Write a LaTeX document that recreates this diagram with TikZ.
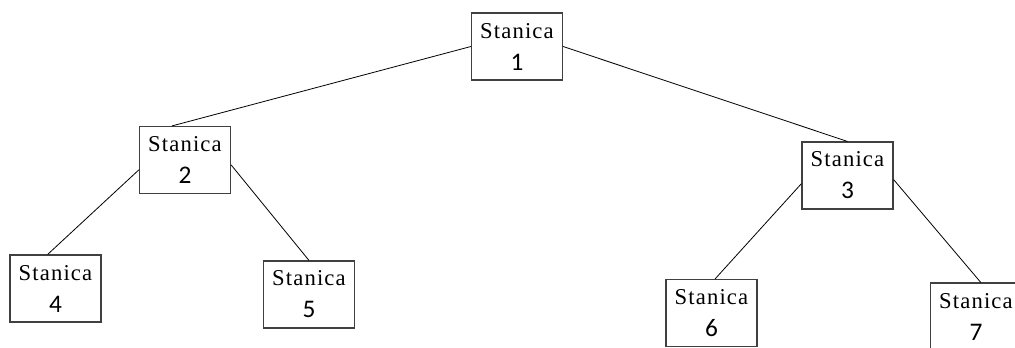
\documentclass[tikz,border=0pt]{standalone}
\usepackage{fontspec}
\usepackage{xcolor}
\usepackage{tikz}
\usetikzlibrary{positioning}

\newfontfamily\stanicafont[LetterSpace=5]{Liberation Serif}
\newfontfamily\brojfont{Carlito}
\newcommand{\stanica}[1]{{\stanicafont Stanica}\\{\brojfont\fontsize{19}{24}\selectfont #1}}

\begin{document}
\begin{tikzpicture}[x=0.75pt, y=-0.75pt,
    stanicabox/.style={draw=black!75, line width=1.1pt, fill=white, minimum width=68pt,
        minimum height=50pt, inner sep=0pt, align=center, font=\fontsize{17}{24}\selectfont},
    veza/.style={black, line width=0.6pt}]
    \useasboundingbox (0,0) rectangle (1015,347);
    % stanice
    \node[stanicabox] (s1) at (517,46.5) {\stanica{1}};
    \node[stanicabox] (s2) at (185,160) {\stanica{2}};
    \node[stanicabox] (s3) at (847.5,175.5) {\stanica{3}};
    \node[stanicabox] (s4) at (55.5,288.5) {\stanica{4}};
    \node[stanicabox] (s5) at (309,294.5) {\stanica{5}};
    \node[stanicabox] (s6) at (711.5,313) {\stanica{6}};
    \node[stanicabox] (s7) at (976,316.5) {\stanica{7}};
    % veze
    \draw[veza] (s1.west) -- (s2.111);
    \draw[veza] (s1.east) -- (s3.north);
    \draw[veza] (s2.192) -- (s4.103);
    \draw[veza] (s2.-6) -- (s5.north);
    \draw[veza] (s3.190) -- (s6.84);
    \draw[veza] (s3.-5) -- (s7.82);
\end{tikzpicture}
\end{document}
